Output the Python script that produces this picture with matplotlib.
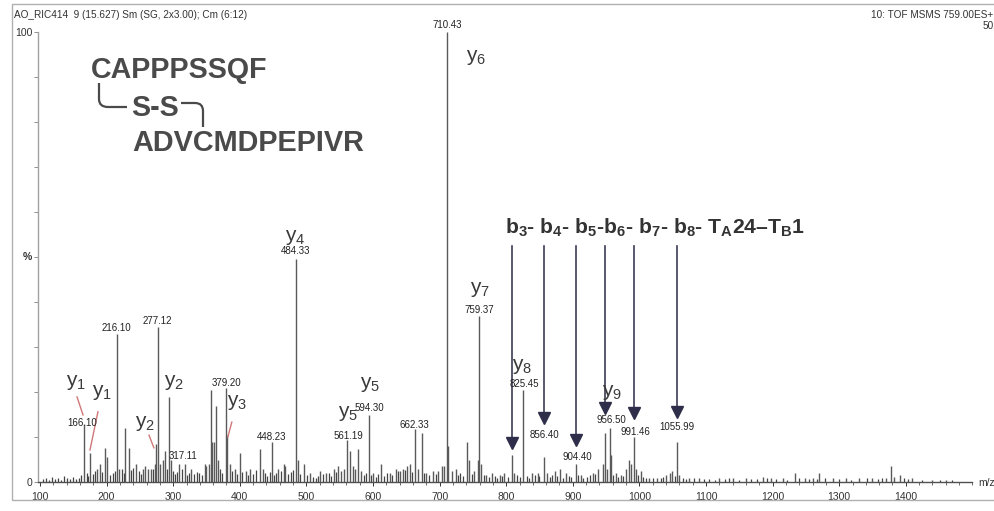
import matplotlib
matplotlib.use("Agg")
import matplotlib.pyplot as plt
from matplotlib.path import Path
from matplotlib.patches import PathPatch, Rectangle
from matplotlib.ticker import MultipleLocator

plt.rcParams['font.family'] = ['Liberation Sans', 'DejaVu Sans']
plt.rcParams['mathtext.fontset'] = 'custom'
plt.rcParams['mathtext.rm'] = 'Liberation Sans'
plt.rcParams['mathtext.bf'] = 'Liberation Sans:bold'
plt.rcParams['mathtext.it'] = 'Liberation Sans:italic'
plt.rcParams['mathtext.default'] = 'regular'

# ---------------- data ----------------
peak_mz = [166.10, 175, 186, 190, 197, 201, 216.10, 219, 228, 233, 244, 254, 258, 262, 266,
           272, 274, 277.12, 280, 284, 287, 293, 297, 309, 317.11, 327, 347, 350, 354, 357,
           359, 362, 365, 368, 379.20, 381, 385, 393, 400, 409, 416, 430, 435, 448.23, 458,
           466, 468, 484.33, 487, 497, 506, 520, 530, 541, 547, 552, 557, 561.19, 565, 570,
           573, 577, 582, 594.30, 600, 612, 625, 634, 640, 645, 651, 656, 662.33, 667, 673,
           680, 690, 698, 703, 706, 710.43, 713, 718, 724, 741, 744, 752, 757, 759.37, 762,
           770, 779, 790, 797, 808, 812, 825.45, 838, 847, 856.40, 862, 873, 881, 890, 904.40,
           912, 930, 938, 945, 949, 952, 956.50, 958, 965, 972, 980, 984, 987, 991.46, 995,
           1002, 1015, 1027, 1040, 1046, 1049, 1055.99, 1060, 1075, 1090, 1120, 1140, 1160,
           1185, 1198, 1215, 1233, 1248, 1260, 1270, 1290, 1310, 1330, 1350, 1370, 1378,
           1382, 1392, 1410, 1440, 1460]
peak_int = [12.8, 6.5, 3.0, 4.0, 7.5, 5.5, 33.0, 3.0, 12.0, 7.5, 4.0, 3.0, 3.5, 3.0, 3.0,
            4.0, 8.5, 34.5, 4.0, 5.0, 7.0, 19.0, 5.0, 4.0, 4.0, 3.0, 4.0, 3.5, 4.0, 20.5,
            9.0, 9.0, 17.0, 5.0, 21.0, 10.5, 4.0, 3.0, 6.5, 2.5, 3.0, 7.3, 3.0, 9.0, 3.0,
            4.0, 3.5, 49.5, 5.0, 4.0, 2.0, 2.5, 2.0, 3.0, 3.5, 2.5, 3.0, 9.3, 7.0, 3.5,
            3.0, 7.3, 2.5, 15.0, 2.0, 4.0, 2.0, 3.0, 2.5, 3.0, 3.5, 4.0, 11.7, 3.0, 11.0,
            2.0, 2.5, 2.5, 3.5, 3.5, 100.0, 8.0, 2.5, 3.0, 9.0, 5.0, 2.5, 5.0, 37.0, 4.0,
            1.5, 2.0, 1.5, 2.0, 6.0, 2.0, 20.5, 2.0, 2.0, 5.5, 2.0, 2.5, 3.0, 2.0, 4.0,
            1.5, 2.0, 3.0, 4.0, 11.0, 3.0, 12.0, 6.0, 2.0, 1.5, 3.0, 5.0, 4.0, 10.0, 3.0,
            2.5, 1.0, 1.0, 1.5, 2.0, 2.5, 9.0, 1.5, 1.0, 0.8, 0.8, 0.8, 0.8,
            1.2, 1.0, 0.8, 2.0, 1.0, 0.8, 2.0, 0.8, 0.8, 1.0, 1.0, 1.0, 3.5,
            1.2, 1.5, 0.8, 0.5, 0.5]

noise_mz = [104, 109, 113, 118, 122, 127, 131, 136, 141, 145,
            150, 154, 158, 162, 170, 172, 179, 182, 193, 205,
            209, 212, 223, 226, 237, 240, 248, 251, 269, 290,
            300, 303, 306, 313, 320, 324, 331, 335, 339, 343,
            371, 374, 389, 396, 404, 412, 420, 424, 438, 441,
            445, 452, 455, 462, 473, 477, 480, 491, 501, 510,
            514, 517, 525, 534, 537, 544, 586, 590, 597, 604,
            608, 617, 621, 629, 637, 648, 659, 677, 684, 694,
            727, 731, 735, 748, 766, 774, 783, 786, 794, 802,
            816, 820, 831, 834, 843, 850, 866, 869, 877, 885,
            894, 898, 908, 916, 921, 926, 934, 961, 968, 976,
            998, 1006, 1010, 1021, 1033, 1036, 1053, 1065, 1070, 1082,
            1097, 1105, 1113, 1128, 1135, 1150, 1167, 1176, 1192, 1205,
            1222, 1240, 1254, 1266, 1279, 1300, 1318, 1341, 1358, 1365,
            1398, 1403, 1425, 1452, 1470]
noise_int = [0.6, 1.0, 0.5, 1.2, 0.7, 0.9, 0.5, 1.4, 0.8, 0.6,
             1.1, 0.7, 0.9, 1.5, 2.0, 1.3, 1.8, 2.5, 2.2, 1.6,
             1.9, 2.4, 2.8, 2.0, 2.6, 3.2, 2.4, 1.8, 2.9, 3.0,
             2.5, 1.8, 2.2, 3.0, 1.5, 2.0, 1.7, 2.3, 2.0, 1.6,
             2.8, 2.0, 2.5, 1.8, 2.2, 1.5, 1.8, 2.6, 2.0, 1.4,
             2.2, 1.6, 2.0, 2.4, 1.8, 2.2, 2.6, 1.7, 1.5, 1.2,
             1.0, 1.4, 1.8, 2.0, 1.3, 2.2, 1.6, 2.0, 1.5, 1.2,
             1.8, 1.4, 2.0, 1.6, 2.4, 2.6, 2.2, 1.9, 1.5, 1.8,
             1.6, 2.0, 1.4, 1.8, 1.5, 1.1, 1.4, 1.0, 1.3, 1.2,
             1.6, 1.2, 1.4, 1.0, 1.5, 1.3, 1.2, 1.6, 1.4, 1.0,
             1.3, 1.1, 1.5, 1.0, 1.2, 1.6, 1.8, 1.5, 1.2, 1.4,
             1.6, 1.2, 0.9, 1.0, 0.8, 1.1, 1.3, 0.9, 0.7, 0.8,
             0.6, 0.7, 0.5, 0.6, 0.8, 0.5, 0.6, 0.7, 0.9, 0.6,
             0.5, 0.8, 0.6, 0.7, 0.9, 0.6, 0.5, 0.8, 0.7, 0.9,
             0.8, 0.6, 0.5, 0.4, 0.5]

# m/z value labels: (position m/z, height %, text)
label_mz = [163, 214, 275.7, 314.7, 379.3, 448.3, 483, 562.5, 595, 661.6, 711, 759,
            826.7, 856.8, 906.3, 957.4, 993.4, 1056.5]
label_y = [13.1, 34.2, 35.8, 5.8, 22.0, 10.0, 51.3, 10.2, 16.4, 12.7, 101.6, 38.2,
           21.8, 10.4, 5.6, 13.8, 11.1, 12.2]
label_txt = ['166.10', '216.10', '277.12', '317.11', '379.20', '448.23', '484.33', '561.19',
             '594.30', '662.33', '710.43', '759.37', '825.45', '856.40', '904.40', '956.50',
             '991.46', '1055.99']

# fragment ion labels
ion_txt = ['y$_1$', 'y$_1$', 'y$_2$', 'y$_2$', 'y$_3$', 'y$_4$', 'y$_5$', 'y$_5$', 'y$_6$',
           'y$_7$', 'y$_8$', 'y$_9$']
ion_mz = [154, 193, 301, 258, 396, 483, 595, 562, 755, 761, 824, 959]
ion_y = [22.0, 19.8, 22.2, 13.1, 17.6, 54.4, 21.6, 15.3, 94.4, 42.7, 25.6, 19.8]

# leader lines (m/z0, %0, m/z1, %1)
leader = [(155.6, 18.9, 164.6, 14.9),
          (187.0, 15.6, 175.0, 7.1),
          (263.7, 10.4, 271.0, 7.6),
          (388.0, 13.3, 382.0, 10.0)]

# b-ion arrows
arrow_mz = [808, 856.4, 904.4, 949, 991.5, 1056]
arrow_tip = [7.5, 13.0, 8.2, 15.3, 14.2, 14.4]

# ---------------- figure ----------------
W, H = 995, 511
fig = plt.figure(figsize=(W / 100, H / 100), dpi=100)

def fx(px):
    return px / W

def fy(py):
    return 1 - py / H

# frame
fig.patches.append(Rectangle((fx(12), fy(500)), fx(1000) - fx(12), fy(4) - fy(500),
                             transform=fig.transFigure, fill=False, ec='#b0b0b0', lw=1.0))

xmin, xmax = 97, 1500
ax_left = 38
ax_right = 40 + (xmax - 100) * 0.666
ax = fig.add_axes([fx(ax_left), fy(482), fx(ax_right) - fx(ax_left), fy(32) - fy(482)])
ax.set_xlim(xmin, xmax)
ax.set_ylim(0, 100)
ax.patch.set_alpha(0)

ax.vlines(noise_mz, 0, noise_int, color='#444444', lw=0.9)
ax.vlines(peak_mz, 0, peak_int, color='#5a5a5a', lw=1.0)

for s in ['top', 'right']:
    ax.spines[s].set_visible(False)
ax.spines['left'].set_color('#a0a0a0')
ax.spines['bottom'].set_color('#505050')
ax.spines['left'].set_linewidth(1.0)
ax.spines['bottom'].set_linewidth(1.0)

ax.set_yticks(range(0, 101, 10))
ax.set_yticklabels(['0'] + [''] * 9 + ['100'])
ax.set_xticks(range(100, 1401, 100))
ax.xaxis.set_minor_locator(MultipleLocator(20))
ax.tick_params(axis='both', which='major', labelsize=7.5, colors='#333333', length=3, width=0.7)
ax.tick_params(axis='x', which='minor', length=2, width=0.6, colors='#555555')
ax.tick_params(axis='x', which='major', pad=4)
ax.tick_params(axis='y', which='major', pad=1, color='#909090')

# header texts
fig.text(fx(14), fy(15), 'AO_RIC414  9 (15.627) Sm (SG, 2x3.00); Cm (6:12)',
         fontsize=7.2, color='#333333', va='center', ha='left')
fig.text(fx(993), fy(15), '10: TOF MSMS 759.00ES+', fontsize=7.2, color='#333333',
         va='center', ha='right')
fig.text(fx(983), fy(26), '502', fontsize=7.2, color='#333333', va='center', ha='left')
fig.text(fx(27), fy(257), '%', fontsize=7.5, color='#333333', va='center', ha='center',
         fontweight='bold')
fig.text(fx(978), fy(483), 'm/z', fontsize=7.5, color='#333333', va='center', ha='left')

# m/z labels
for m, yv, t in zip(label_mz, label_y, label_txt):
    ax.text(m, yv, t, fontsize=7, color='#222222', ha='center', va='center', clip_on=False)

# ion labels
for t, m, yv in zip(ion_txt, ion_mz, ion_y):
    ax.text(m, yv, t, fontsize=15, color='#3a3a3a', ha='center', va='center', clip_on=False)

for (m0, y0, m1, y1) in leader:
    ax.plot([m0, m1], [y0, y1], color='#d07878', lw=1.0)

# b arrows
for m, tip in zip(arrow_mz, arrow_tip):
    ax.plot([m, m], [52.5, tip + 1.5], color='#3c3c55', lw=1.2)
    ax.plot([m], [tip + 1.2], marker='v', color='#2e2e4a', markersize=8, ls='none')

ax.text(798, 56.4,
        r'b$_\mathbf{3}$- b$_\mathbf{4}$- b$_\mathbf{5}$-b$_\mathbf{6}$- b$_\mathbf{7}$- '
        r'b$_\mathbf{8}$- T$_\mathbf{A}$24–T$_\mathbf{B}$1',
        fontsize=15.2, fontweight='bold', color='#333333', ha='left', va='center')

# peptide text
pep_color = '#4a4a4a'
fig.text(fx(91), fy(70), 'CAPPPSSQF', fontsize=20.6, fontweight='bold', color=pep_color,
         ha='left', va='center')
fig.text(fx(131), fy(108), 'S-S', fontsize=20.6, fontweight='bold', color=pep_color,
         ha='left', va='center')
fig.text(fx(132), fy(143), 'ADVCMDPEPIVR', fontsize=20.8, fontweight='bold', color=pep_color,
         ha='left', va='center')

def fpath(pts, codes):
    return Path([(fx(a), fy(b)) for a, b in pts], codes)

p1 = fpath([(99, 83), (99, 99), (99, 107), (108, 107), (127, 107)],
           [Path.MOVETO, Path.LINETO, Path.CURVE3, Path.CURVE3, Path.LINETO])
p2 = fpath([(181, 103), (195, 103), (203, 103), (203, 111), (203, 127)],
           [Path.MOVETO, Path.LINETO, Path.CURVE3, Path.CURVE3, Path.LINETO])
for p in (p1, p2):
    fig.patches.append(PathPatch(p, transform=fig.transFigure, fill=False, ec=pep_color, lw=1.6))

fig.savefig('out.png', dpi=100)
